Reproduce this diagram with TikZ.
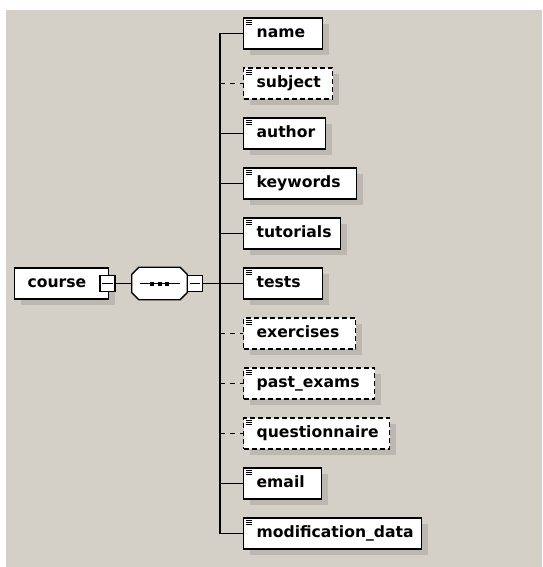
\documentclass[tikz,border=0pt]{standalone}
\usepackage{fontspec}
\newfontfamily\schemafont{DejaVu Sans}
\usetikzlibrary{shadows}

\definecolor{panel}{RGB}{212,208,200}
\definecolor{shade}{RGB}{188,184,177}

\tikzset{
  box/.style={draw=black, line width=1.3pt, fill=white, anchor=west,
    inner xsep=0pt, inner ysep=0pt, minimum height=31pt,
    text width=#1, align=left, text height=11.5pt, text depth=3pt,
    font=\schemafont\bfseries\fontsize{15.6}{18}\selectfont,
    execute at begin node={\hspace*{13pt}},
    general shadow={fill=shade, shadow xshift=6pt, shadow yshift=-6pt}},
  optional/.style={dash pattern=on 5pt off 3pt},
  optlink/.style={dash pattern=on 5pt off 5pt},
  toggle/.style={draw=black, line width=1.1pt, fill=white,
    minimum width=15pt, minimum height=16pt, inner sep=0pt},
  link/.style={line width=1.5pt},
}

\begin{document}
\begin{tikzpicture}[x=1pt, y=-1pt]
        \useasboundingbox (0,0) rectangle (542,567);
        \fill[panel] (6,10) rectangle (542,567);

        % Root element and sequence.
        \node[box=94pt] (course) at (14,283.5) {course};
        \node[toggle] (coursetog) at (107.5,283.5) {};
        \draw[line width=1pt] ([xshift=3pt]coursetog.west) -- ([xshift=-3pt]coursetog.east);

        \node[inner sep=0pt, minimum width=55pt, minimum height=32pt] (seq) at (159.5,283.5) {};
        \fill[shade, xshift=6pt, yshift=-6pt] ([xshift=7pt]seq.north west) -- ([xshift=-7pt]seq.north east)
            -- ([yshift=-7pt]seq.north east) -- ([yshift=7pt]seq.south east) -- ([xshift=-7pt]seq.south east)
            -- ([xshift=7pt]seq.south west) -- ([yshift=7pt]seq.south west) -- ([yshift=-7pt]seq.north west) -- cycle;
        \filldraw[fill=white, line width=1.3pt] ([xshift=7pt]seq.north west) -- ([xshift=-7pt]seq.north east)
            -- ([yshift=-7pt]seq.north east) -- ([yshift=7pt]seq.south east) -- ([xshift=-7pt]seq.south east)
            -- ([xshift=7pt]seq.south west) -- ([yshift=7pt]seq.south west) -- ([yshift=-7pt]seq.north west) -- cycle;
        \draw[line width=1.2pt] ([xshift=-19.5pt]seq.center) -- ([xshift=20.5pt]seq.center);
        \foreach \d in {-7.5,0,7.5}
            \fill ([xshift=\d pt]seq.center) ++(-2,-2) rectangle ++(4,4);
        \node[toggle] (seqtog) at (195,283.5) {};
        \draw[line width=1pt] ([xshift=3pt]seqtog.west) -- ([xshift=-3pt]seqtog.east);

        % Child elements.
        \node[box=79pt] (name) at (243,33.5) {name};
        \node[box=89pt, optional] (subject) at (243,83.5) {subject};
        \node[box=82pt] (author) at (243,133.5) {author};
        \node[box=113pt] (keywords) at (243,183.5) {keywords};
        \node[box=97pt] (tutorials) at (243,233.5) {tutorials};
        \node[box=79pt] (tests) at (243,283.5) {tests};
        \node[box=112pt, optional] (exercises) at (243,333.5) {exercises};
        \node[box=131pt, optional] (past_exams) at (243,383.5) {past\_exams};
        \node[box=146pt, optional] (questionnaire) at (243,433.5) {questionnaire};
        \node[box=78pt] (email) at (243,483.5) {email};
        \node[box=178pt] (modification_data) at (243,533.5) {modification\_data};

        \foreach \e in {name,subject,author,keywords,tutorials,tests,exercises,past_exams,questionnaire,email,modification_data}
            \foreach \k in {3,4.8,6.6}
                \draw[line width=0.8pt] ([xshift=2.5pt,yshift=-\k pt]\e.north west) -- ++(6,0);

        % Links.
        \coordinate (spine) at (220,283.5);
        \draw[link] (coursetog.east) -- (seq.west);
        \draw[link] (seqtog.east) -- (tests.west);
        \draw[link] (spine |- name.west) -- (spine |- modification_data.west);
        \foreach \e in {name,author,keywords,tutorials,email,modification_data}
            \draw[link] (spine |- \e.west) -- (\e.west);
        \foreach \e in {subject,exercises,past_exams,questionnaire}
            \draw[link, optlink] (spine |- \e.west) -- (\e.west);
    \end{tikzpicture}
\end{document}
